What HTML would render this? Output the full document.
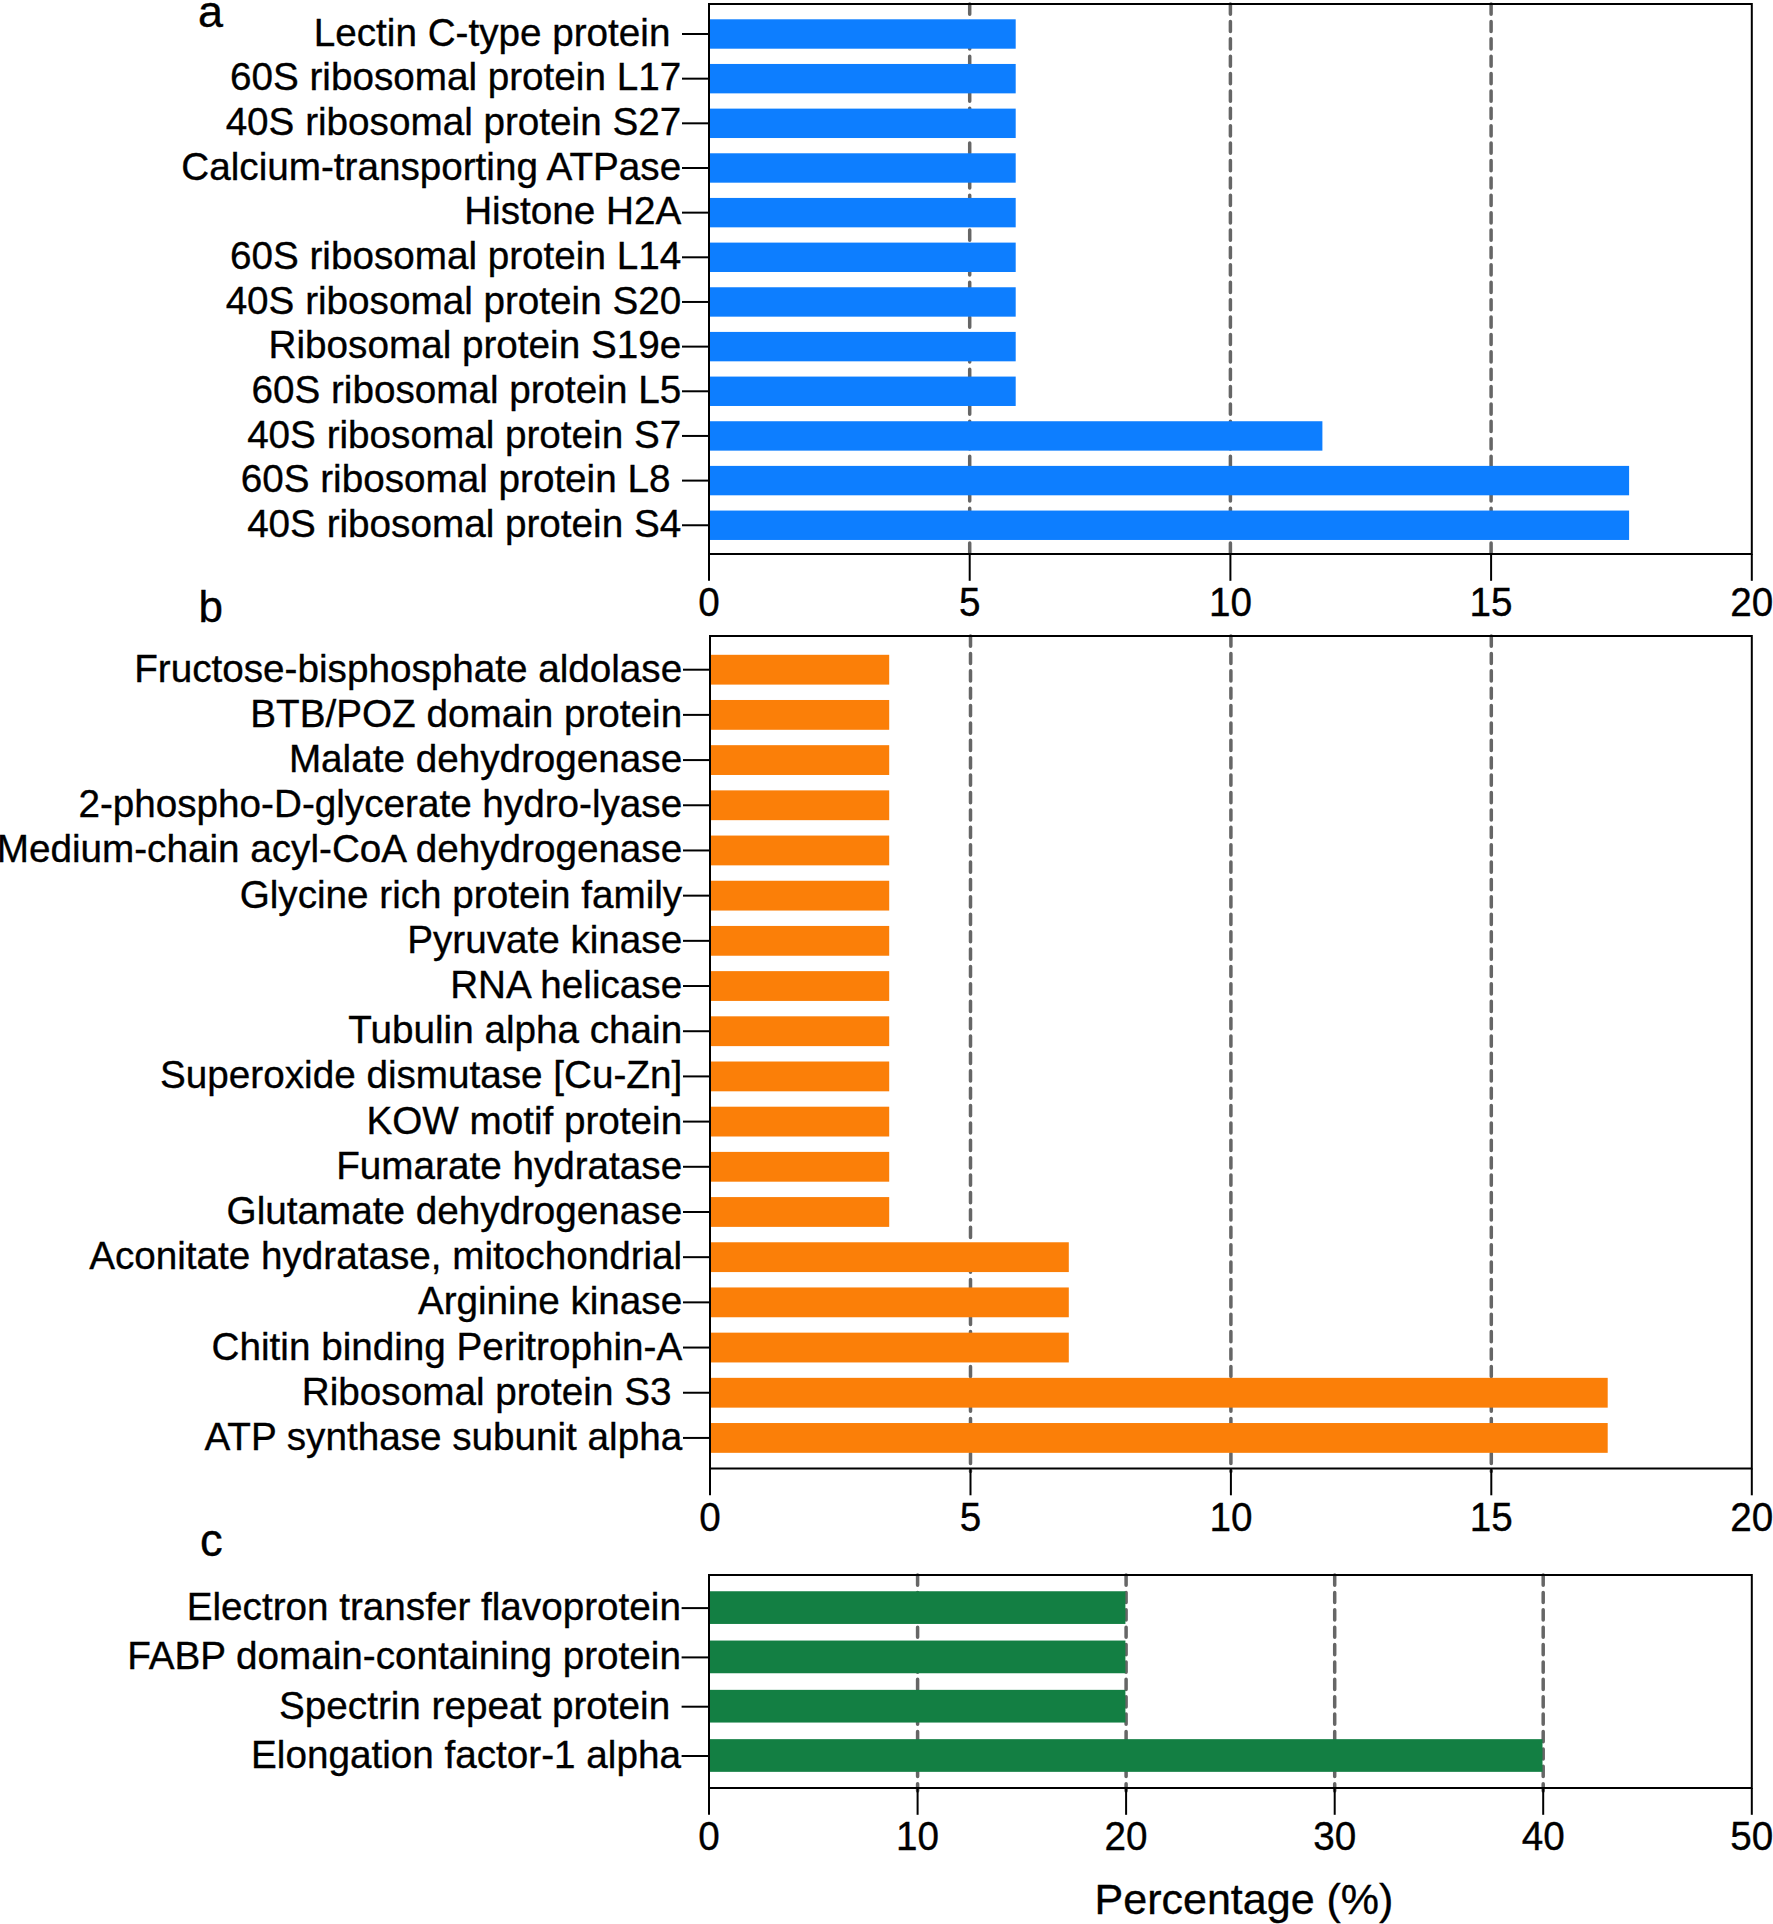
<!DOCTYPE html>
<html lang="en"><head><meta charset="utf-8"><title>Figure</title>
<style>html,body{margin:0;padding:0;background:#fff}svg{display:block}text{font-family:"Liberation Sans",sans-serif;fill:#000;stroke:#000;stroke-width:0.35px}</style>
</head><body>
<svg width="1773" height="1924" viewBox="0 0 1773 1924" font-size="38.66">
<rect width="1773" height="1924" fill="#fff"/>
<g>
<line x1="969.7" y1="4.0" x2="969.7" y2="557.0" stroke="#666" stroke-width="3.5" stroke-linecap="round" stroke-dasharray="10.2 7.19"/>
<line x1="1230.4" y1="4.0" x2="1230.4" y2="557.0" stroke="#666" stroke-width="3.5" stroke-linecap="round" stroke-dasharray="10.2 7.19"/>
<line x1="1491.1" y1="4.0" x2="1491.1" y2="557.0" stroke="#666" stroke-width="3.5" stroke-linecap="round" stroke-dasharray="10.2 7.19"/>
<rect x="709.0" y="19.30" width="306.7" height="29.40" fill="#0d7eff"/>
<rect x="709.0" y="63.96" width="306.7" height="29.40" fill="#0d7eff"/>
<rect x="709.0" y="108.62" width="306.7" height="29.40" fill="#0d7eff"/>
<rect x="709.0" y="153.28" width="306.7" height="29.40" fill="#0d7eff"/>
<rect x="709.0" y="197.94" width="306.7" height="29.40" fill="#0d7eff"/>
<rect x="709.0" y="242.60" width="306.7" height="29.40" fill="#0d7eff"/>
<rect x="709.0" y="287.26" width="306.7" height="29.40" fill="#0d7eff"/>
<rect x="709.0" y="331.92" width="306.7" height="29.40" fill="#0d7eff"/>
<rect x="709.0" y="376.58" width="306.7" height="29.40" fill="#0d7eff"/>
<rect x="709.0" y="421.24" width="613.4" height="29.40" fill="#0d7eff"/>
<rect x="709.0" y="465.90" width="920.1" height="29.40" fill="#0d7eff"/>
<rect x="709.0" y="510.56" width="920.1" height="29.40" fill="#0d7eff"/>
<rect x="709.0" y="4.0" width="1042.8" height="550.0" fill="none" stroke="#000" stroke-width="2"/>
<line x1="682.0" y1="34.00" x2="709.0" y2="34.00" stroke="#000" stroke-width="2"/>
<text x="681.2" y="45.80" text-anchor="end" xml:space="preserve">Lectin C-type protein </text>
<line x1="682.0" y1="78.66" x2="709.0" y2="78.66" stroke="#000" stroke-width="2"/>
<text x="681.2" y="90.46" text-anchor="end" xml:space="preserve">60S ribosomal protein L17</text>
<line x1="682.0" y1="123.32" x2="709.0" y2="123.32" stroke="#000" stroke-width="2"/>
<text x="681.2" y="135.12" text-anchor="end" xml:space="preserve">40S ribosomal protein S27</text>
<line x1="682.0" y1="167.98" x2="709.0" y2="167.98" stroke="#000" stroke-width="2"/>
<text x="681.2" y="179.78" text-anchor="end" xml:space="preserve">Calcium-transporting ATPase</text>
<line x1="682.0" y1="212.64" x2="709.0" y2="212.64" stroke="#000" stroke-width="2"/>
<text x="681.2" y="224.44" text-anchor="end" xml:space="preserve">Histone H2A</text>
<line x1="682.0" y1="257.30" x2="709.0" y2="257.30" stroke="#000" stroke-width="2"/>
<text x="681.2" y="269.10" text-anchor="end" xml:space="preserve">60S ribosomal protein L14</text>
<line x1="682.0" y1="301.96" x2="709.0" y2="301.96" stroke="#000" stroke-width="2"/>
<text x="681.2" y="313.76" text-anchor="end" xml:space="preserve">40S ribosomal protein S20</text>
<line x1="682.0" y1="346.62" x2="709.0" y2="346.62" stroke="#000" stroke-width="2"/>
<text x="681.2" y="358.42" text-anchor="end" xml:space="preserve">Ribosomal protein S19e</text>
<line x1="682.0" y1="391.28" x2="709.0" y2="391.28" stroke="#000" stroke-width="2"/>
<text x="681.2" y="403.08" text-anchor="end" xml:space="preserve">60S ribosomal protein L5</text>
<line x1="682.0" y1="435.94" x2="709.0" y2="435.94" stroke="#000" stroke-width="2"/>
<text x="681.2" y="447.74" text-anchor="end" xml:space="preserve">40S ribosomal protein S7</text>
<line x1="682.0" y1="480.60" x2="709.0" y2="480.60" stroke="#000" stroke-width="2"/>
<text x="681.2" y="492.40" text-anchor="end" xml:space="preserve">60S ribosomal protein L8 </text>
<line x1="682.0" y1="525.26" x2="709.0" y2="525.26" stroke="#000" stroke-width="2"/>
<text x="681.2" y="537.06" text-anchor="end" xml:space="preserve">40S ribosomal protein S4</text>
<line x1="709.0" y1="554.0" x2="709.0" y2="580.8" stroke="#000" stroke-width="2"/>
<text transform="translate(709.0 616.0) scale(1 1.04)" text-anchor="middle">0</text>
<line x1="969.7" y1="554.0" x2="969.7" y2="580.8" stroke="#000" stroke-width="2"/>
<text transform="translate(969.7 616.0) scale(1 1.04)" text-anchor="middle">5</text>
<line x1="1230.4" y1="554.0" x2="1230.4" y2="580.8" stroke="#000" stroke-width="2"/>
<text transform="translate(1230.4 616.0) scale(1 1.04)" text-anchor="middle">10</text>
<line x1="1491.1" y1="554.0" x2="1491.1" y2="580.8" stroke="#000" stroke-width="2"/>
<text transform="translate(1491.1 616.0) scale(1 1.04)" text-anchor="middle">15</text>
<line x1="1751.8" y1="554.0" x2="1751.8" y2="580.8" stroke="#000" stroke-width="2"/>
<text transform="translate(1751.8 616.0) scale(1 1.04)" text-anchor="middle">20</text>
<text x="198" y="26.5" font-size="45">a</text>
</g>
<g>
<line x1="970.5" y1="636.0" x2="970.5" y2="1471.5" stroke="#666" stroke-width="3.5" stroke-linecap="round" stroke-dasharray="10.2 7.19"/>
<line x1="1230.9" y1="636.0" x2="1230.9" y2="1471.5" stroke="#666" stroke-width="3.5" stroke-linecap="round" stroke-dasharray="10.2 7.19"/>
<line x1="1491.3" y1="636.0" x2="1491.3" y2="1471.5" stroke="#666" stroke-width="3.5" stroke-linecap="round" stroke-dasharray="10.2 7.19"/>
<rect x="710.0" y="654.80" width="179.2" height="29.80" fill="#fb7f08"/>
<rect x="710.0" y="699.99" width="179.2" height="29.80" fill="#fb7f08"/>
<rect x="710.0" y="745.18" width="179.2" height="29.80" fill="#fb7f08"/>
<rect x="710.0" y="790.37" width="179.2" height="29.80" fill="#fb7f08"/>
<rect x="710.0" y="835.56" width="179.2" height="29.80" fill="#fb7f08"/>
<rect x="710.0" y="880.75" width="179.2" height="29.80" fill="#fb7f08"/>
<rect x="710.0" y="925.94" width="179.2" height="29.80" fill="#fb7f08"/>
<rect x="710.0" y="971.13" width="179.2" height="29.80" fill="#fb7f08"/>
<rect x="710.0" y="1016.32" width="179.2" height="29.80" fill="#fb7f08"/>
<rect x="710.0" y="1061.51" width="179.2" height="29.80" fill="#fb7f08"/>
<rect x="710.0" y="1106.70" width="179.2" height="29.80" fill="#fb7f08"/>
<rect x="710.0" y="1151.89" width="179.2" height="29.80" fill="#fb7f08"/>
<rect x="710.0" y="1197.08" width="179.2" height="29.80" fill="#fb7f08"/>
<rect x="710.0" y="1242.27" width="358.8" height="29.80" fill="#fb7f08"/>
<rect x="710.0" y="1287.46" width="358.8" height="29.80" fill="#fb7f08"/>
<rect x="710.0" y="1332.65" width="358.8" height="29.80" fill="#fb7f08"/>
<rect x="710.0" y="1377.84" width="897.7" height="29.80" fill="#fb7f08"/>
<rect x="710.0" y="1423.03" width="897.7" height="29.80" fill="#fb7f08"/>
<rect x="710.0" y="636.0" width="1041.8" height="832.5" fill="none" stroke="#000" stroke-width="2"/>
<line x1="683.0" y1="669.70" x2="710.0" y2="669.70" stroke="#000" stroke-width="2"/>
<text x="682.2" y="681.70" text-anchor="end" xml:space="preserve">Fructose-bisphosphate aldolase</text>
<line x1="683.0" y1="714.89" x2="710.0" y2="714.89" stroke="#000" stroke-width="2"/>
<text x="682.2" y="726.89" text-anchor="end" xml:space="preserve">BTB/POZ domain protein</text>
<line x1="683.0" y1="760.08" x2="710.0" y2="760.08" stroke="#000" stroke-width="2"/>
<text x="682.2" y="772.08" text-anchor="end" xml:space="preserve">Malate dehydrogenase</text>
<line x1="683.0" y1="805.27" x2="710.0" y2="805.27" stroke="#000" stroke-width="2"/>
<text x="682.2" y="817.27" text-anchor="end" xml:space="preserve">2-phospho-D-glycerate hydro-lyase</text>
<line x1="683.0" y1="850.46" x2="710.0" y2="850.46" stroke="#000" stroke-width="2"/>
<text x="682.2" y="862.46" text-anchor="end" xml:space="preserve">Medium-chain acyl-CoA dehydrogenase</text>
<line x1="683.0" y1="895.65" x2="710.0" y2="895.65" stroke="#000" stroke-width="2"/>
<text x="682.2" y="907.65" text-anchor="end" xml:space="preserve">Glycine rich protein family</text>
<line x1="683.0" y1="940.84" x2="710.0" y2="940.84" stroke="#000" stroke-width="2"/>
<text x="682.2" y="952.84" text-anchor="end" xml:space="preserve">Pyruvate kinase</text>
<line x1="683.0" y1="986.03" x2="710.0" y2="986.03" stroke="#000" stroke-width="2"/>
<text x="682.2" y="998.03" text-anchor="end" xml:space="preserve">RNA helicase</text>
<line x1="683.0" y1="1031.22" x2="710.0" y2="1031.22" stroke="#000" stroke-width="2"/>
<text x="682.2" y="1043.22" text-anchor="end" xml:space="preserve">Tubulin alpha chain</text>
<line x1="683.0" y1="1076.41" x2="710.0" y2="1076.41" stroke="#000" stroke-width="2"/>
<text x="682.2" y="1088.41" text-anchor="end" xml:space="preserve">Superoxide dismutase [Cu-Zn]</text>
<line x1="683.0" y1="1121.60" x2="710.0" y2="1121.60" stroke="#000" stroke-width="2"/>
<text x="682.2" y="1133.60" text-anchor="end" xml:space="preserve">KOW motif protein</text>
<line x1="683.0" y1="1166.79" x2="710.0" y2="1166.79" stroke="#000" stroke-width="2"/>
<text x="682.2" y="1178.79" text-anchor="end" xml:space="preserve">Fumarate hydratase</text>
<line x1="683.0" y1="1211.98" x2="710.0" y2="1211.98" stroke="#000" stroke-width="2"/>
<text x="682.2" y="1223.98" text-anchor="end" xml:space="preserve">Glutamate dehydrogenase</text>
<line x1="683.0" y1="1257.17" x2="710.0" y2="1257.17" stroke="#000" stroke-width="2"/>
<text x="682.2" y="1269.17" text-anchor="end" xml:space="preserve">Aconitate hydratase, mitochondrial</text>
<line x1="683.0" y1="1302.36" x2="710.0" y2="1302.36" stroke="#000" stroke-width="2"/>
<text x="682.2" y="1314.36" text-anchor="end" xml:space="preserve">Arginine kinase</text>
<line x1="683.0" y1="1347.55" x2="710.0" y2="1347.55" stroke="#000" stroke-width="2"/>
<text x="682.2" y="1359.55" text-anchor="end" xml:space="preserve">Chitin binding Peritrophin-A</text>
<line x1="683.0" y1="1392.74" x2="710.0" y2="1392.74" stroke="#000" stroke-width="2"/>
<text x="682.2" y="1404.74" text-anchor="end" xml:space="preserve">Ribosomal protein S3 </text>
<line x1="683.0" y1="1437.93" x2="710.0" y2="1437.93" stroke="#000" stroke-width="2"/>
<text x="682.2" y="1449.93" text-anchor="end" xml:space="preserve">ATP synthase subunit alpha</text>
<line x1="710.0" y1="1468.5" x2="710.0" y2="1495.3" stroke="#000" stroke-width="2"/>
<text transform="translate(710.0 1530.5) scale(1 1.04)" text-anchor="middle">0</text>
<line x1="970.5" y1="1468.5" x2="970.5" y2="1495.3" stroke="#000" stroke-width="2"/>
<text transform="translate(970.5 1530.5) scale(1 1.04)" text-anchor="middle">5</text>
<line x1="1230.9" y1="1468.5" x2="1230.9" y2="1495.3" stroke="#000" stroke-width="2"/>
<text transform="translate(1230.9 1530.5) scale(1 1.04)" text-anchor="middle">10</text>
<line x1="1491.3" y1="1468.5" x2="1491.3" y2="1495.3" stroke="#000" stroke-width="2"/>
<text transform="translate(1491.3 1530.5) scale(1 1.04)" text-anchor="middle">15</text>
<line x1="1751.8" y1="1468.5" x2="1751.8" y2="1495.3" stroke="#000" stroke-width="2"/>
<text transform="translate(1751.8 1530.5) scale(1 1.04)" text-anchor="middle">20</text>
<text x="198.6" y="621.7" font-size="44">b</text>
</g>
<g>
<line x1="917.6" y1="1575.0" x2="917.6" y2="1791.0" stroke="#666" stroke-width="3.5" stroke-linecap="round" stroke-dasharray="10.2 7.19"/>
<line x1="1126.1" y1="1575.0" x2="1126.1" y2="1791.0" stroke="#666" stroke-width="3.5" stroke-linecap="round" stroke-dasharray="10.2 7.19"/>
<line x1="1334.7" y1="1575.0" x2="1334.7" y2="1791.0" stroke="#666" stroke-width="3.5" stroke-linecap="round" stroke-dasharray="10.2 7.19"/>
<line x1="1543.2" y1="1575.0" x2="1543.2" y2="1791.0" stroke="#666" stroke-width="3.5" stroke-linecap="round" stroke-dasharray="10.2 7.19"/>
<rect x="709.0" y="1591.25" width="416.4" height="32.70" fill="#137f43"/>
<rect x="709.0" y="1640.55" width="416.4" height="32.70" fill="#137f43"/>
<rect x="709.0" y="1689.85" width="416.4" height="32.70" fill="#137f43"/>
<rect x="709.0" y="1739.15" width="833.5" height="32.70" fill="#137f43"/>
<rect x="709.0" y="1575.0" width="1042.8" height="213.0" fill="none" stroke="#000" stroke-width="2"/>
<line x1="681.6" y1="1608.10" x2="709.0" y2="1608.10" stroke="#000" stroke-width="2"/>
<text x="680.9" y="1620.10" text-anchor="end" xml:space="preserve">Electron transfer flavoprotein</text>
<line x1="681.6" y1="1657.40" x2="709.0" y2="1657.40" stroke="#000" stroke-width="2"/>
<text x="680.9" y="1669.40" text-anchor="end" xml:space="preserve">FABP domain-containing protein</text>
<line x1="681.6" y1="1706.70" x2="709.0" y2="1706.70" stroke="#000" stroke-width="2"/>
<text x="680.9" y="1718.70" text-anchor="end" xml:space="preserve">Spectrin repeat protein </text>
<line x1="681.6" y1="1756.00" x2="709.0" y2="1756.00" stroke="#000" stroke-width="2"/>
<text x="680.9" y="1768.00" text-anchor="end" xml:space="preserve">Elongation factor-1 alpha</text>
<line x1="709.0" y1="1788.0" x2="709.0" y2="1814.8" stroke="#000" stroke-width="2"/>
<text transform="translate(709.0 1850.0) scale(1 1.04)" text-anchor="middle">0</text>
<line x1="917.6" y1="1788.0" x2="917.6" y2="1814.8" stroke="#000" stroke-width="2"/>
<text transform="translate(917.6 1850.0) scale(1 1.04)" text-anchor="middle">10</text>
<line x1="1126.1" y1="1788.0" x2="1126.1" y2="1814.8" stroke="#000" stroke-width="2"/>
<text transform="translate(1126.1 1850.0) scale(1 1.04)" text-anchor="middle">20</text>
<line x1="1334.7" y1="1788.0" x2="1334.7" y2="1814.8" stroke="#000" stroke-width="2"/>
<text transform="translate(1334.7 1850.0) scale(1 1.04)" text-anchor="middle">30</text>
<line x1="1543.2" y1="1788.0" x2="1543.2" y2="1814.8" stroke="#000" stroke-width="2"/>
<text transform="translate(1543.2 1850.0) scale(1 1.04)" text-anchor="middle">40</text>
<line x1="1751.8" y1="1788.0" x2="1751.8" y2="1814.8" stroke="#000" stroke-width="2"/>
<text transform="translate(1751.8 1850.0) scale(1 1.04)" text-anchor="middle">50</text>
<text x="200" y="1556" font-size="45.3">c</text>
</g>
<text x="1244" y="1914.2" text-anchor="middle" font-size="43">Percentage (%)</text>
</svg></body></html>
